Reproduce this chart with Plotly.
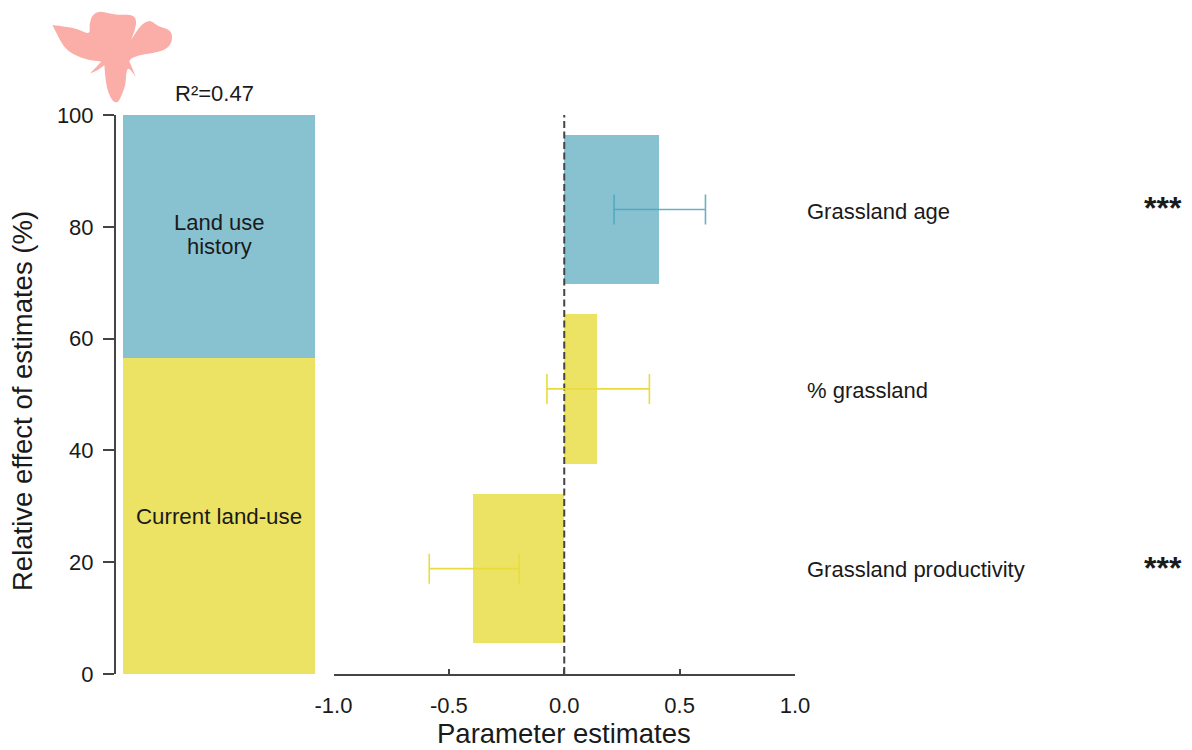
import plotly.graph_objects as go

W, H = 1192, 750

# Left stacked bar
stack_groups = ["Current land-use", "Land use history"]
stack_values = [56.5, 43.5]
stack_colors = ["#ECE364", "#88C2D1"]

# Right panel
predictors = ["Grassland age", "% grassland", "Grassland productivity"]
estimates = [0.41, 0.14, -0.395]
bar_centers = [83.1, 51.0, 18.85]
bar_span = 26.7
err_mid = [0.414, 0.147, -0.39]
err_half = [0.198, 0.222, 0.195]
significance = ["***", "", "***"]
pred_colors = ["#88C2D1", "#ECE364", "#ECE364"]
err_colors = ["rgba(75,165,190,0.85)", "#E9DC3C", "#E9DC3C"]

x_ticks = [-1.0, -0.5, 0.0, 0.5, 1.0]
x_ticklabels = ["-1.0", "-0.5", "0.0", "0.5", "1.0"]
y_ticks = [0, 20, 40, 60, 80, 100]

FONT = "Liberation Sans, Arial, sans-serif"
INK = "#1a1a1a"
AXIS = "#444444"


def px(x):
    return x / W


def py(y):
    return 1 - y / H


# Flower silhouette outline (decorative icon); (x, y) in a 3x crop at offset (45, 5)
flower_zoom = [
    (22, 60), (22, 60), (60, 65), (100, 72), (135, 90), (133, 55), (143, 28), (165, 18), (190, 25),
    (225, 30), (262, 28), (275, 45), (270, 75), (258, 105), (258, 105), (280, 70), (300, 50),
    (320, 47), (340, 65), (365, 70), (382, 85), (380, 115), (360, 135), (320, 145), (280, 150),
    (250, 165), (258, 180), (272, 215), (272, 215), (250, 185), (243, 205), (242, 240), (230, 270),
    (220, 292), (205, 292), (190, 265), (182, 230), (178, 180), (178, 180), (160, 195), (135, 205),
    (135, 205), (155, 185), (168, 170), (168, 170), (130, 165), (85, 150), (55, 125), (35, 85),
]
flower_pts = [(45 + a / 3, 5 + b / 3) for a, b in flower_zoom]
n = len(flower_pts)
mid = lambda p, q: ((p[0] + q[0]) / 2, (p[1] + q[1]) / 2)
fmt = lambda p: f"{px(p[0]):.5f},{py(p[1]):.5f}"
start = mid(flower_pts[-1], flower_pts[0])
flower_path = "M " + fmt(start)
for i in range(n):
    flower_path += " Q " + fmt(flower_pts[i]) + " " + fmt(mid(flower_pts[i], flower_pts[(i + 1) % n]))
flower_path += " Z"

fig = go.Figure()

# Stacked bar
for g, v, c in zip(stack_groups, stack_values, stack_colors):
    fig.add_trace(go.Bar(x=[0.5], y=[v], width=[1], marker=dict(color=c, line=dict(width=0)),
                         xaxis="x", yaxis="y", showlegend=False, name=g))

# Horizontal effect bars
for name, e, m, col in zip(predictors, estimates, bar_centers, pred_colors):
    fig.add_trace(go.Bar(x=[e], y=[m], width=[bar_span], orientation="h",
                         marker=dict(color=col, line=dict(width=0)),
                         xaxis="x2", yaxis="y2", showlegend=False, name=name))

# Zero line
fig.add_trace(go.Scatter(x=[0, 0], y=[0, 100], mode="lines", xaxis="x2", yaxis="y2",
                         line=dict(color="#444444", width=2, dash="7px,3.5px"), showlegend=False))

# Error bars
for name, m, h, yy, col in zip(predictors, err_mid, err_half, bar_centers, err_colors):
    fig.add_trace(go.Scatter(x=[m], y=[yy], mode="markers", marker=dict(size=1, opacity=0),
                             error_x=dict(type="data", array=[h], color=col, thickness=1.6, width=15),
                             xaxis="x2", yaxis="y2", showlegend=False, name=name))

annotations = []


def note(x, y, text, size=22, anchor="left", **kw):
    annotations.append(dict(x=px(x), y=py(y), xref="paper", yref="paper", text=text, showarrow=False,
                            xanchor=anchor, yanchor="middle", font=dict(family=FONT, size=size, color=INK), **kw))


for name, yy in zip(predictors, [211, 390, 569]):
    note(804.5, yy, name)
for s, yy in zip(significance, [208, 208, 568]):
    if s:
        note(1163, yy, "<b>" + s + "</b>", size=32, anchor="center")
note(214, 94, "R²=0.47", anchor="center")
note(219, 222, "Land use", anchor="center")
note(219, 247, "history", anchor="center")
note(219, 516, "Current land-use", anchor="center", size=22.3)
note(564, 733.5, "Parameter estimates", size=27.5, anchor="center")
note(23, 401, "Relative effect of estimates (%)", size=27.5, anchor="center", textangle=-90)

fig.update_layout(
    width=W, height=H, margin=dict(l=0, r=0, t=0, b=0, autoexpand=False), autosize=False,
    paper_bgcolor="white", plot_bgcolor="white", barmode="stack",
    font=dict(family=FONT, size=22, color=INK),
    annotations=annotations,
    shapes=[dict(type="path", xref="paper", yref="paper", path=flower_path,
                 fillcolor="#FBADA8", line=dict(width=0))],
    xaxis=dict(domain=[px(123), px(315)], range=[0, 1], visible=False, fixedrange=True),
    yaxis=dict(domain=[py(674), py(115)], range=[0, 100], anchor="free", position=px(115),
               tickvals=y_ticks, ticks="outside", ticklen=11, tickwidth=2, tickcolor=AXIS,
               ticklabelstandoff=5,
               showline=True, linecolor=AXIS, linewidth=2, showgrid=False, zeroline=False,
               tickfont=dict(size=22, family=FONT, color=INK)),
    xaxis2=dict(domain=[px(333.5), px(795)], range=[-1, 1], anchor="y2",
                tickvals=x_ticks, ticktext=x_ticklabels, ticks="inside", ticklen=5, tickwidth=2,
                ticklabelstandoff=11,
                tickcolor=AXIS, showline=True, linecolor=AXIS, linewidth=2, showgrid=False,
                zeroline=False, tickfont=dict(size=22, family=FONT, color=INK)),
    yaxis2=dict(domain=[py(674), py(115)], range=[0, 100], anchor="x2", visible=False),
)

fig.write_html("out.html", config={"displayModeBar": False},
               post_script="document.documentElement.style.overflow='hidden';document.body.style.margin='0';")
